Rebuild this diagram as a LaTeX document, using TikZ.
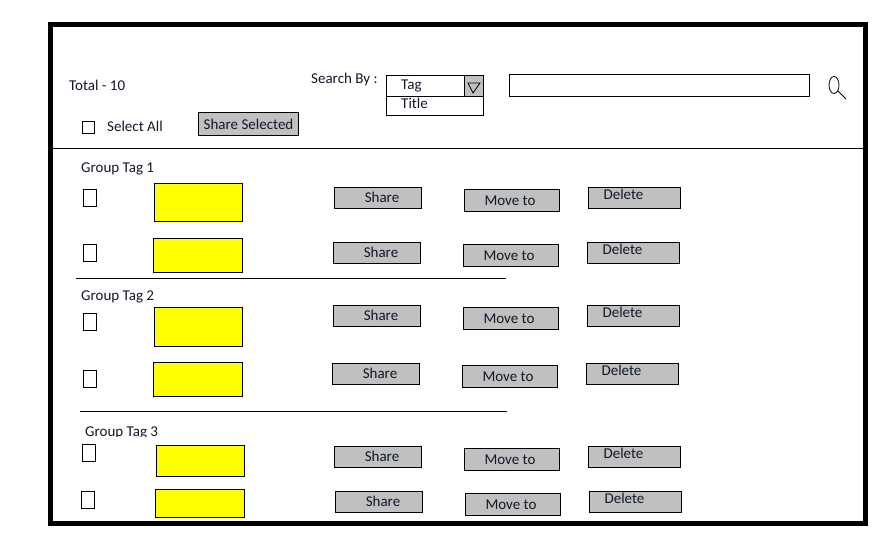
\documentclass[tikz,border=0pt]{standalone}
\usepackage{fontspec}
\setmainfont{Carlito}
\usetikzlibrary{positioning}
\definecolor{btngray}{HTML}{C0C0C0}
\definecolor{inkblue}{HTML}{101828}
\definecolor{thumbyellow}{HTML}{FFFF00}

\begin{document}
\begin{tikzpicture}[x=1pt, y=-1pt, font=\fontsize{15}{17}\selectfont, text=inkblue,
  checkbox/.style={draw, line width=1pt, minimum width=13pt, minimum height=17pt, inner sep=0pt},
  thumb/.style={draw, line width=1pt, fill=thumbyellow, inner sep=0pt},
  btn/.style={draw, line width=1pt, fill=btngray, inner sep=0pt},
  sharebtn/.style={btn, minimum width=87pt, minimum height=21pt, label={[xshift=4pt, yshift=0.5pt]center:Share}},
  movebtn/.style={btn, minimum width=95pt, minimum height=22pt, label={[xshift=-2pt, yshift=-0.5pt]center:Move to}},
  deletebtn/.style={btn, minimum width=92pt, minimum height=21pt, label={[xshift=-11pt, yshift=3.5pt]center:Delete}},
  caption/.style={anchor=west, inner sep=0pt},
  rule/.style={line width=1pt}]
\useasboundingbox (0,0) rectangle (896,533);

\node[draw, line width=5pt, minimum width=815pt, minimum height=499pt, inner sep=0pt] (frame) at (458,274) {};

% header
\node[caption] (total) at (69,85) {Total - 10};
\node[caption] (search) at (311,79) {Search By :};
\node[draw, line width=1pt, minimum width=97pt, minimum height=21pt, inner sep=0pt] (tagbox) at (435,85.5) {};
\node[draw, line width=1pt, minimum width=97pt, minimum height=19pt, inner sep=0pt] (titlebox) at (435,105.5) {};
\node[caption] (tagtext) at (401,86) {Tag};
\node[caption] (titletext) at (401,103.5) {Title};
\node[draw, line width=1pt, fill=btngray, minimum width=19pt, minimum height=21pt, inner sep=0pt] (arrowbox) at (474,85.5) {};
\draw[line width=0.8pt] (468,83) -- (480,83) -- (473,93) -- cycle;
\node[draw, line width=1pt, minimum width=300pt, minimum height=22pt, inner sep=0pt] (query) at (659.5,85.5) {};
\draw[line width=0.8pt] (834,85) ellipse [x radius=5pt, y radius=8.5pt];
\draw[line width=0.8pt] (838,91) -- (846,99);
\node[draw, line width=1pt, minimum width=12pt, minimum height=12pt, inner sep=0pt] (selectall) at (88.5,127) {};
\node[caption] (selecttext) at (107,126) {Select All};
\node[btn, minimum width=100pt, minimum height=23pt] (shareall) at (248.5,124) {Share Selected};

\coordinate (sepa) at (52,148.5);
\coordinate (sepb) at (864,148.5);
\draw[rule] (sepa) -- (sepb);

% group 1
\node[caption] (groupa) at (81,169) {Group Tag 1};
\node[checkbox] (checka) at (90,198) {};
\node[thumb, minimum width=88pt, minimum height=38pt] (thumba) at (198.5,202.5) {};
\node[sharebtn] (sharea) at (378,198) {};
\node[movebtn] (movea) at (512,200.5) {};
\node[deletebtn] (deletea) at (634.5,198) {};

\node[checkbox] (checkb) at (90,253) {};
\node[thumb, minimum width=89pt, minimum height=34pt] (thumbb) at (198,255.5) {};
\node[sharebtn] (shareb) at (377,253) {};
\node[movebtn] (moveb) at (511,255.5) {};
\node[deletebtn] (deleteb) at (633.5,253) {};

\coordinate (sepc) at (76,278.5);
\coordinate (sepd) at (506,278.5);
\draw[rule] (sepc) -- (sepd);

% group 2
\node[caption] (groupb) at (81,297) {Group Tag 2};
\node[checkbox] (checkc) at (90,322) {};
\node[thumb, minimum width=88pt, minimum height=39pt] (thumbc) at (198.5,327) {};
\node[sharebtn] (sharec) at (377,316) {};
\node[movebtn] (movec) at (511,318.5) {};
\node[deletebtn] (deletec) at (633.5,316) {};

\node[checkbox] (checkd) at (90,379) {};
\node[thumb, minimum width=89pt, minimum height=34pt] (thumbd) at (198,379.5) {};
\node[sharebtn] (shared) at (376,374) {};
\node[movebtn] (moved) at (510,376.5) {};
\node[deletebtn] (deleted) at (632.5,374) {};

\coordinate (sepe) at (80,411.5);
\coordinate (sepf) at (507,411.5);
\draw[rule] (sepe) -- (sepf);

% group 3
\node[caption] (groupc) at (85,433) {Group Tag 3};
\fill[white] (80,437) rectangle (165,444);
\node[checkbox] (checke) at (89,453) {};
\node[thumb, minimum width=88pt, minimum height=31pt] (thumbe) at (200.5,461) {};
\node[sharebtn] (sharee) at (378,457) {};
\node[movebtn] (movee) at (512,459.5) {};
\node[deletebtn] (deletee) at (634.5,457) {};

\node[checkbox] (checkf) at (88,500) {};
\node[thumb, minimum width=89pt, minimum height=28pt] (thumbf) at (200,503.5) {};
\node[sharebtn] (sharef) at (379,502) {};
\node[movebtn] (movef) at (513,504.5) {};
\node[deletebtn] (deletef) at (635.5,502) {};
\end{tikzpicture}
\end{document}
